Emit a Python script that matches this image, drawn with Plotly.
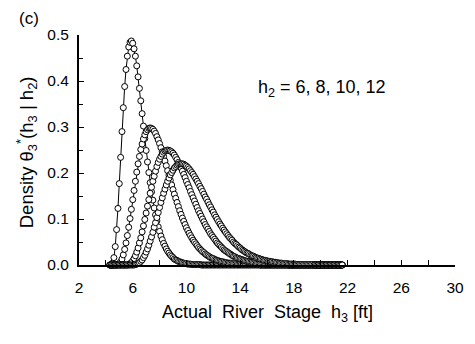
import numpy as np
import plotly.graph_objects as go

# Sampling grid of actual river stage h3 [ft]: 4.3 ... 21.6 in 0.1 ft steps
STAGE_START = 4.3
STAGE_STEP = 0.1
N_STAGE = 174
stage_h3 = np.round(STAGE_START + STAGE_STEP * np.arange(N_STAGE), 1)

# Conditional density theta3*(h3 | h2) for forecast stages h2 = 6, 8, 10, 12 ft
density_h2_6 = [
    0.000, 0.000, 0.004, 0.016, 0.040, 0.077, 0.123, 0.177, 0.234, 0.290,
    0.342, 0.388, 0.425, 0.454, 0.474, 0.484, 0.487, 0.482, 0.470, 0.454,
    0.433, 0.409, 0.384, 0.357, 0.329, 0.302, 0.275, 0.249, 0.224, 0.201,
    0.179, 0.159, 0.141, 0.124, 0.109, 0.096, 0.083, 0.073, 0.063, 0.055,
    0.047, 0.041, 0.035, 0.030, 0.026, 0.022, 0.019, 0.016, 0.013, 0.011,
    0.010, 0.008, 0.007, 0.006, 0.005, 0.004, 0.003, 0.003, 0.002, 0.002,
    0.002, 0.001, 0.001, 0.001, 0.001, 0.001, 0.001, 0.001, 0.000, 0.000,
    0.000, 0.000, 0.000, 0.000, 0.000, 0.000, 0.000, 0.000, 0.000, 0.000,
    0.000, 0.000, 0.000, 0.000, 0.000, 0.000, 0.000, 0.000, 0.000, 0.000,
    0.000, 0.000, 0.000, 0.000, 0.000, 0.000, 0.000, 0.000, 0.000, 0.000,
    0.000, 0.000, 0.000, 0.000, 0.000, 0.000, 0.000, 0.000, 0.000, 0.000,
    0.000, 0.000, 0.000, 0.000, 0.000, 0.000, 0.000, 0.000, 0.000, 0.000,
    0.000, 0.000, 0.000, 0.000, 0.000, 0.000, 0.000, 0.000, 0.000, 0.000,
    0.000, 0.000, 0.000, 0.000, 0.000, 0.000, 0.000, 0.000, 0.000, 0.000,
    0.000, 0.000, 0.000, 0.000, 0.000, 0.000, 0.000, 0.000, 0.000, 0.000,
    0.000, 0.000, 0.000, 0.000, 0.000, 0.000, 0.000, 0.000, 0.000, 0.000,
    0.000, 0.000, 0.000, 0.000, 0.000, 0.000, 0.000, 0.000, 0.000, 0.000,
    0.000, 0.000, 0.000, 0.000,
]

density_h2_8 = [
    0.000, 0.000, 0.000, 0.000, 0.000, 0.000, 0.001, 0.003, 0.007, 0.013,
    0.022, 0.034, 0.048, 0.064, 0.082, 0.101, 0.121, 0.142, 0.162, 0.182,
    0.202, 0.220, 0.236, 0.251, 0.263, 0.274, 0.283, 0.290, 0.294, 0.297,
    0.298, 0.297, 0.295, 0.291, 0.286, 0.279, 0.272, 0.264, 0.255, 0.246,
    0.236, 0.226, 0.216, 0.205, 0.195, 0.184, 0.174, 0.164, 0.154, 0.145,
    0.136, 0.127, 0.118, 0.110, 0.102, 0.095, 0.088, 0.081, 0.075, 0.069,
    0.064, 0.059, 0.054, 0.050, 0.046, 0.042, 0.038, 0.035, 0.032, 0.029,
    0.027, 0.024, 0.022, 0.020, 0.018, 0.016, 0.015, 0.014, 0.012, 0.011,
    0.010, 0.009, 0.008, 0.007, 0.007, 0.006, 0.005, 0.005, 0.004, 0.004,
    0.004, 0.003, 0.003, 0.003, 0.003, 0.002, 0.002, 0.002, 0.002, 0.001,
    0.001, 0.001, 0.001, 0.001, 0.001, 0.001, 0.001, 0.001, 0.001, 0.001,
    0.001, 0.001, 0.000, 0.000, 0.000, 0.000, 0.000, 0.000, 0.000, 0.000,
    0.000, 0.000, 0.000, 0.000, 0.000, 0.000, 0.000, 0.000, 0.000, 0.000,
    0.000, 0.000, 0.000, 0.000, 0.000, 0.000, 0.000, 0.000, 0.000, 0.000,
    0.000, 0.000, 0.000, 0.000, 0.000, 0.000, 0.000, 0.000, 0.000, 0.000,
    0.000, 0.000, 0.000, 0.000, 0.000, 0.000, 0.000, 0.000, 0.000, 0.000,
    0.000, 0.000, 0.000, 0.000, 0.000, 0.000, 0.000, 0.000, 0.000, 0.000,
    0.000, 0.000, 0.000, 0.000,
]

density_h2_10 = [
    0.000, 0.000, 0.000, 0.000, 0.000, 0.000, 0.000, 0.000, 0.000, 0.000,
    0.000, 0.000, 0.000, 0.000, 0.001, 0.003, 0.005, 0.009, 0.014, 0.020,
    0.028, 0.037, 0.048, 0.059, 0.072, 0.085, 0.099, 0.113, 0.128, 0.142,
    0.156, 0.169, 0.182, 0.193, 0.204, 0.214, 0.223, 0.230, 0.236, 0.241,
    0.245, 0.248, 0.249, 0.250, 0.249, 0.248, 0.246, 0.243, 0.239, 0.234,
    0.229, 0.223, 0.217, 0.211, 0.204, 0.197, 0.190, 0.182, 0.175, 0.168,
    0.160, 0.153, 0.146, 0.139, 0.132, 0.125, 0.118, 0.112, 0.106, 0.100,
    0.094, 0.088, 0.083, 0.078, 0.073, 0.068, 0.064, 0.060, 0.056, 0.052,
    0.048, 0.045, 0.042, 0.039, 0.036, 0.033, 0.031, 0.029, 0.027, 0.025,
    0.023, 0.021, 0.019, 0.018, 0.016, 0.015, 0.014, 0.013, 0.012, 0.011,
    0.010, 0.009, 0.008, 0.008, 0.007, 0.006, 0.006, 0.005, 0.005, 0.004,
    0.004, 0.004, 0.003, 0.003, 0.003, 0.003, 0.002, 0.002, 0.002, 0.002,
    0.002, 0.002, 0.001, 0.001, 0.001, 0.001, 0.001, 0.001, 0.001, 0.001,
    0.001, 0.001, 0.001, 0.000, 0.000, 0.000, 0.000, 0.000, 0.000, 0.000,
    0.000, 0.000, 0.000, 0.000, 0.000, 0.000, 0.000, 0.000, 0.000, 0.000,
    0.000, 0.000, 0.000, 0.000, 0.000, 0.000, 0.000, 0.000, 0.000, 0.000,
    0.000, 0.000, 0.000, 0.000, 0.000, 0.000, 0.000, 0.000, 0.000, 0.000,
    0.000, 0.000, 0.000, 0.000,
]

density_h2_12 = [
    0.000, 0.000, 0.000, 0.000, 0.000, 0.000, 0.000, 0.000, 0.000, 0.000,
    0.000, 0.000, 0.000, 0.000, 0.000, 0.000, 0.000, 0.000, 0.000, 0.001,
    0.002, 0.003, 0.005, 0.008, 0.011, 0.016, 0.021, 0.028, 0.035, 0.043,
    0.052, 0.061, 0.071, 0.082, 0.092, 0.103, 0.114, 0.125, 0.136, 0.146,
    0.156, 0.165, 0.174, 0.182, 0.189, 0.196, 0.201, 0.206, 0.211, 0.214,
    0.217, 0.219, 0.220, 0.220, 0.220, 0.219, 0.217, 0.215, 0.212, 0.209,
    0.205, 0.201, 0.197, 0.192, 0.187, 0.182, 0.177, 0.171, 0.166, 0.160,
    0.154, 0.148, 0.143, 0.137, 0.131, 0.126, 0.120, 0.115, 0.109, 0.104,
    0.099, 0.094, 0.089, 0.085, 0.080, 0.076, 0.072, 0.068, 0.064, 0.060,
    0.057, 0.054, 0.050, 0.047, 0.045, 0.042, 0.039, 0.037, 0.034, 0.032,
    0.030, 0.028, 0.026, 0.025, 0.023, 0.021, 0.020, 0.019, 0.017, 0.016,
    0.015, 0.014, 0.013, 0.012, 0.011, 0.010, 0.010, 0.009, 0.008, 0.008,
    0.007, 0.007, 0.006, 0.006, 0.005, 0.005, 0.004, 0.004, 0.004, 0.003,
    0.003, 0.003, 0.003, 0.002, 0.002, 0.002, 0.002, 0.002, 0.002, 0.001,
    0.001, 0.001, 0.001, 0.001, 0.001, 0.001, 0.001, 0.001, 0.001, 0.001,
    0.001, 0.001, 0.000, 0.000, 0.000, 0.000, 0.000, 0.000, 0.000, 0.000,
    0.000, 0.000, 0.000, 0.000, 0.000, 0.000, 0.000, 0.000, 0.000, 0.000,
    0.000, 0.000, 0.000, 0.000,
]

series = [density_h2_6, density_h2_8, density_h2_10, density_h2_12]

x_tick_vals = [2, 6, 10, 14, 18, 22, 26, 30]
y_tick_vals = [0.0, 0.1, 0.2, 0.3, 0.4, 0.5]
y_tick_text = ["0.0", "0.1", "0.2", "0.3", "0.4", "0.5"]

FONT = "Arial, Liberation Sans, sans-serif"

fig = go.Figure()
for dens in series:
    fig.add_trace(go.Scatter(
        x=stage_h3, y=dens, mode="lines+markers",
        line=dict(color="black", width=1),
        marker=dict(symbol="circle", size=6, color="white",
                    line=dict(color="black", width=1)),
        cliponaxis=False, showlegend=False,
    ))

fig.update_layout(
    width=475, height=344,
    margin=dict(l=79, r=11, t=35, b=79),
    paper_bgcolor="white", plot_bgcolor="white",
    font=dict(family=FONT, size=15.5, color="black"),
    showlegend=False,
)

fig.update_xaxes(
    range=[2, 30], tickvals=x_tick_vals, ticks="inside", ticklen=5,
    tickwidth=1, tickcolor="black", ticklabelstandoff=7,
    minor=dict(tickvals=[4, 8, 12, 16, 20, 24, 28], ticks="inside",
               ticklen=5, tickwidth=1, tickcolor="black"),
    showline=True, linecolor="black", linewidth=2, showgrid=False,
    zeroline=False, tickfont=dict(size=15.5),
)
fig.update_yaxes(
    range=[0, 0.5], tickvals=y_tick_vals, ticktext=y_tick_text,
    ticks="inside", ticklen=5, tickwidth=1, tickcolor="black",
    ticklabelstandoff=5,
    minor=dict(tickvals=[0.05, 0.15, 0.25, 0.35, 0.45], ticks="inside",
               ticklen=4, tickwidth=1, tickcolor="black"),
    showline=True, linecolor="black", linewidth=2, showgrid=False,
    zeroline=False, tickfont=dict(size=15.5),
)

annotations = [
    dict(text="(c)", x=28, y=19, font=dict(size=17)),
    dict(text="Density θ<sub>3</sub><sup>*</sup>(h<sub>3</sub> | h<sub>2</sub>)",
         x=25, y=152, textangle=-90, font=dict(size=18.5)),
    dict(text="Actual  River  Stage  h<sub>3</sub> [ft]", x=272, y=313,
         font=dict(size=18)),
    dict(text="h<sub>2</sub> = 6, 8, 10, 12", x=328, y=88, font=dict(size=18)),
]
for a in annotations:
    px, py = a.pop("x"), a.pop("y")
    fig.add_annotation(
        x=(px - 79) / 385, y=(265 - py) / 230, xref="paper", yref="paper",
        xanchor="center", yanchor="middle", showarrow=False, **a,
    )

fig.write_html("out.html")
